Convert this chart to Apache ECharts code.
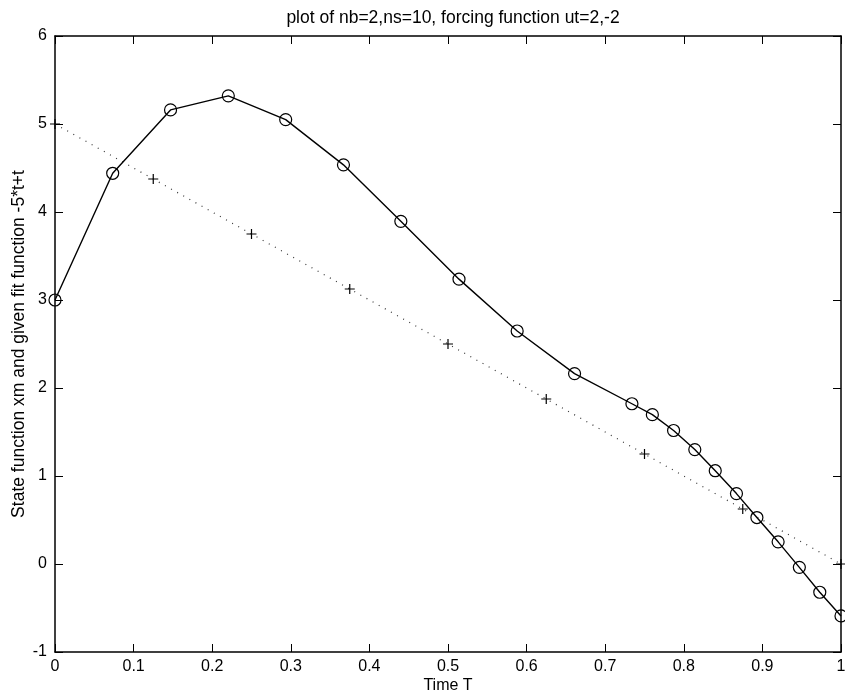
<!DOCTYPE html>
<html>
<head>
<meta charset="utf-8">
<script src="https://cdn.jsdelivr.net/npm/echarts@6/dist/echarts.min.js"></script>
<style>html,body{margin:0;padding:0;background:#fff;}#c{width:845px;height:699px;}</style>
</head>
<body>
<div id="c"></div>
<script>
// State function xm (circles, solid line)
const stateT = [0, 0.0734, 0.147, 0.2205, 0.2935, 0.367, 0.440, 0.514, 0.588, 0.661,
                0.734, 0.760, 0.787, 0.814, 0.840, 0.867, 0.893, 0.920, 0.947, 0.973, 1.0];
const stateX = [3.0, 4.44, 5.16, 5.32, 5.05, 4.536, 3.894, 3.237, 2.648, 2.164,
                1.821, 1.697, 1.517, 1.30, 1.06, 0.80, 0.528, 0.252, -0.038, -0.321, -0.59];
// Given fit function (plus markers, dotted line)
const fitT = [0, 0.125, 0.25, 0.375, 0.5, 0.625, 0.75, 0.875, 1.0];
const fitX = [5.0, 4.375, 3.75, 3.125, 2.5, 1.875, 1.25, 0.625, 0.0];
const xTicks = [0, 0.1, 0.2, 0.3, 0.4, 0.5, 0.6, 0.7, 0.8, 0.9, 1];
const yTicks = [-1, 0, 1, 2, 3, 4, 5, 6];

const FONT = 'Liberation Sans';
const chart = echarts.init(document.getElementById('c'), null, {renderer: 'canvas'});
const pair = (a, b) => a.map((v, i) => [v, b[i]]);
const axisCommon = {
  axisLine: {show: true, onZero: false, lineStyle: {color: '#000', width: 1.5}},
  axisTick: {show: true, inside: true, length: 8, lineStyle: {color: '#000', width: 1}},
  splitLine: {show: false}
};
chart.setOption({
  animation: false,
  backgroundColor: '#fff',
  title: {
    text: 'plot of nb=2,ns=10, forcing function ut=2,-2',
    left: 448, top: 4, textAlign: 'center',
    textStyle: {fontFamily: FONT, fontSize: 17.5, fontWeight: 'normal', color: '#000'}
  },
  grid: {left: 55, right: 4, top: 36, bottom: 47, containLabel: false, outerBoundsMode: 'none'},
  xAxis: [
    Object.assign({}, axisCommon, {
      type: 'value', position: 'bottom', min: 0, max: 1, interval: 0.1,
      name: 'Time T', nameLocation: 'middle', nameGap: 26, nameMoveOverlap: false,
      nameTextStyle: {fontFamily: FONT, fontSize: 16, color: '#000'},
      axisLabel: {fontFamily: FONT, fontSize: 16, color: '#000', margin: 7,
        formatter: v => { const i = xTicks.findIndex(t => Math.abs(t - v) < 1e-9); return i >= 0 ? String(xTicks[i]) : ''; }}
    }),
    Object.assign({}, axisCommon, {
      type: 'value', position: 'top', min: 0, max: 1, interval: 0.1,
      axisLabel: {show: false}
    })
  ],
  yAxis: [
    Object.assign({}, axisCommon, {
      type: 'value', position: 'left', min: -1, max: 6, interval: 1,
      name: 'State function xm and given fit function -5*t+t', nameLocation: 'middle', nameGap: 27,
      nameMoveOverlap: false,
      nameTextStyle: {fontFamily: FONT, fontSize: 17.5, color: '#000'},
      axisLabel: {fontFamily: FONT, fontSize: 16, color: '#000', margin: 8,
        formatter: v => { const i = yTicks.indexOf(Math.round(v)); return i >= 0 ? String(yTicks[i]) : ''; }}
    }),
    Object.assign({}, axisCommon, {
      type: 'value', position: 'right', min: -1, max: 6, interval: 1,
      axisLabel: {show: false}
    })
  ],
  series: [
    {
      type: 'line', xAxisIndex: 0, yAxisIndex: 0,
      data: pair(fitT, fitX),
      symbol: 'path://M5,0L5,10M0,5L10,5', symbolSize: 10,
      itemStyle: {color: 'none', borderColor: '#000', borderWidth: 1.2},
      lineStyle: {color: '#333', width: 1.2, type: [1, 6]},
      clip: false, z: 2
    },
    {
      type: 'line', xAxisIndex: 0, yAxisIndex: 0,
      data: pair(stateT, stateX),
      symbol: 'circle', symbolSize: 12, showAllSymbol: true,
      itemStyle: {color: 'rgba(0,0,0,0)', borderColor: '#000', borderWidth: 1.2},
      lineStyle: {color: '#000', width: 1.4},
      clip: false, z: 3
    }
  ]
});
</script>
</body>
</html>
